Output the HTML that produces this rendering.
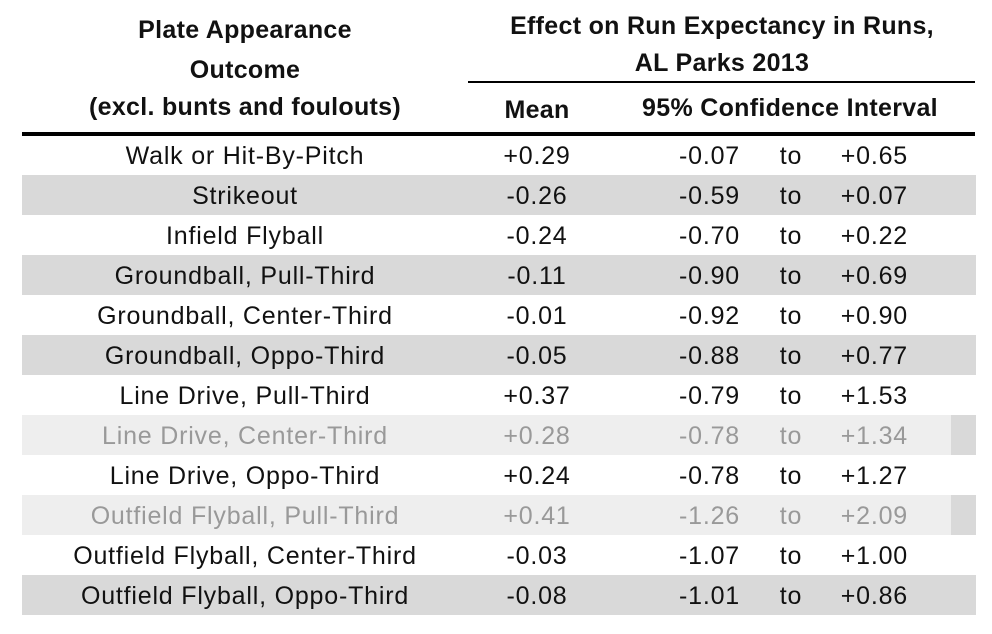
<!DOCTYPE html>
<html><head><meta charset="utf-8"><style>
html,body{margin:0;padding:0;background:#fff;}
svg{display:block;}
text{font-family:"Liberation Sans",sans-serif;font-size:25px;letter-spacing:0.8px;fill:#111;}
.b{font-weight:bold;font-size:25px;letter-spacing:0.3px;}
.f{fill:#999;}
</style></head><body>
<svg width="992" height="634" viewBox="0 0 992 634">
<rect x="0" y="0" width="992" height="634" fill="#fff"/>
<text class="b" x="245" y="38" text-anchor="middle">Plate Appearance</text>
<text class="b" x="245" y="78" text-anchor="middle">Outcome</text>
<text class="b" x="245" y="115" text-anchor="middle">(excl. bunts and foulouts)</text>
<text class="b" x="722" y="34" text-anchor="middle">Effect on Run Expectancy in Runs,</text>
<text class="b" x="722" y="71" text-anchor="middle">AL Parks 2013</text>
<rect x="468" y="81" width="507" height="2" fill="#000"/>
<text class="b" x="537" y="118" text-anchor="middle">Mean</text>
<text class="b" x="790" y="116" text-anchor="middle">95% Confidence Interval</text>
<rect x="22" y="132" width="953" height="4" fill="#000"/>
<g>
<rect x="22" y="175" width="954" height="40" fill="#d9d9d9"/>
<rect x="22" y="255" width="954" height="40" fill="#d9d9d9"/>
<rect x="22" y="335" width="954" height="40" fill="#d9d9d9"/>
<rect x="22" y="415" width="954" height="40" fill="#eeeeee"/>
<rect x="951" y="415" width="25" height="40" fill="#d9d9d9"/>
<rect x="22" y="495" width="954" height="40" fill="#eeeeee"/>
<rect x="951" y="495" width="25" height="40" fill="#d9d9d9"/>
<rect x="22" y="575" width="954" height="40" fill="#d9d9d9"/>
</g>
<g>
<text x="245" y="164" text-anchor="middle">Walk or Hit-By-Pitch</text><text x="537" y="164" text-anchor="middle">+0.29</text><text x="740" y="164" text-anchor="end">-0.07</text><text x="791" y="164" text-anchor="middle">to</text><text x="908" y="164" text-anchor="end">+0.65</text>
<text x="245" y="204" text-anchor="middle">Strikeout</text><text x="537" y="204" text-anchor="middle">-0.26</text><text x="740" y="204" text-anchor="end">-0.59</text><text x="791" y="204" text-anchor="middle">to</text><text x="908" y="204" text-anchor="end">+0.07</text>
<text x="245" y="244" text-anchor="middle">Infield Flyball</text><text x="537" y="244" text-anchor="middle">-0.24</text><text x="740" y="244" text-anchor="end">-0.70</text><text x="791" y="244" text-anchor="middle">to</text><text x="908" y="244" text-anchor="end">+0.22</text>
<text x="245" y="284" text-anchor="middle">Groundball, Pull-Third</text><text x="537" y="284" text-anchor="middle">-0.11</text><text x="740" y="284" text-anchor="end">-0.90</text><text x="791" y="284" text-anchor="middle">to</text><text x="908" y="284" text-anchor="end">+0.69</text>
<text x="245" y="324" text-anchor="middle">Groundball, Center-Third</text><text x="537" y="324" text-anchor="middle">-0.01</text><text x="740" y="324" text-anchor="end">-0.92</text><text x="791" y="324" text-anchor="middle">to</text><text x="908" y="324" text-anchor="end">+0.90</text>
<text x="245" y="364" text-anchor="middle">Groundball, Oppo-Third</text><text x="537" y="364" text-anchor="middle">-0.05</text><text x="740" y="364" text-anchor="end">-0.88</text><text x="791" y="364" text-anchor="middle">to</text><text x="908" y="364" text-anchor="end">+0.77</text>
<text x="245" y="404" text-anchor="middle">Line Drive, Pull-Third</text><text x="537" y="404" text-anchor="middle">+0.37</text><text x="740" y="404" text-anchor="end">-0.79</text><text x="791" y="404" text-anchor="middle">to</text><text x="908" y="404" text-anchor="end">+1.53</text>
<text class="f" x="245" y="444" text-anchor="middle">Line Drive, Center-Third</text><text class="f" x="537" y="444" text-anchor="middle">+0.28</text><text class="f" x="740" y="444" text-anchor="end">-0.78</text><text class="f" x="791" y="444" text-anchor="middle">to</text><text class="f" x="908" y="444" text-anchor="end">+1.34</text>
<text x="245" y="484" text-anchor="middle">Line Drive, Oppo-Third</text><text x="537" y="484" text-anchor="middle">+0.24</text><text x="740" y="484" text-anchor="end">-0.78</text><text x="791" y="484" text-anchor="middle">to</text><text x="908" y="484" text-anchor="end">+1.27</text>
<text class="f" x="245" y="524" text-anchor="middle">Outfield Flyball, Pull-Third</text><text class="f" x="537" y="524" text-anchor="middle">+0.41</text><text class="f" x="740" y="524" text-anchor="end">-1.26</text><text class="f" x="791" y="524" text-anchor="middle">to</text><text class="f" x="908" y="524" text-anchor="end">+2.09</text>
<text x="245" y="564" text-anchor="middle">Outfield Flyball, Center-Third</text><text x="537" y="564" text-anchor="middle">-0.03</text><text x="740" y="564" text-anchor="end">-1.07</text><text x="791" y="564" text-anchor="middle">to</text><text x="908" y="564" text-anchor="end">+1.00</text>
<text x="245" y="604" text-anchor="middle">Outfield Flyball, Oppo-Third</text><text x="537" y="604" text-anchor="middle">-0.08</text><text x="740" y="604" text-anchor="end">-1.01</text><text x="791" y="604" text-anchor="middle">to</text><text x="908" y="604" text-anchor="end">+0.86</text>
</g>
</svg>
</body></html>
